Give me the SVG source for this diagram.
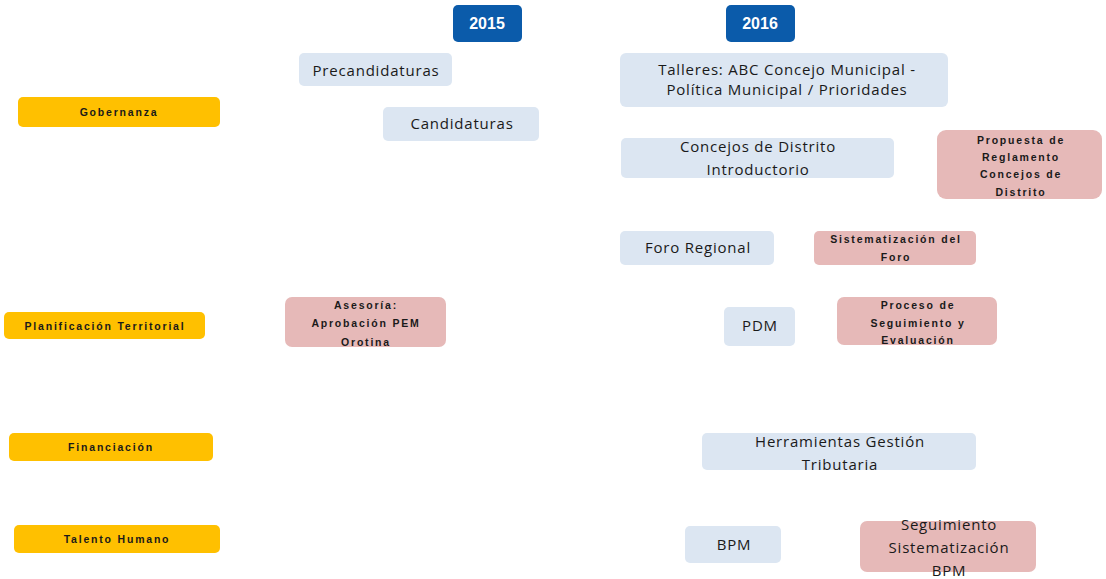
<svg xmlns="http://www.w3.org/2000/svg" width="1106" height="579" viewBox="0 0 1106 579">
<style>
.yr{fill:#0B5BAA}
.yt{font-family:"Liberation Sans",Arial,sans-serif;font-weight:bold;font-size:16px;fill:#fff;text-anchor:middle}
.cat{fill:#FFC000}
.bl{fill:#DCE6F2}
.pk{fill:#E6B9B8}
.sm{font-family:"Liberation Sans",Arial,sans-serif;font-weight:bold;font-size:10.5px;letter-spacing:1.8px;fill:#1a1a1a;text-anchor:middle}
.md{font-family:"Open Sans","Liberation Sans",sans-serif;font-size:15px;letter-spacing:0.8px;fill:#1a1a1a;text-anchor:middle}
.lg{font-family:"Open Sans","Liberation Sans",sans-serif;font-size:15px;letter-spacing:0.8px;fill:#1a1a1a;text-anchor:middle}
</style>
<rect width="1106" height="579" fill="#fff"/>
<g id="y2015"><rect class="yr" x="453" y="5" width="69" height="37" rx="5"/><text class="yt" x="487" y="29">2015</text></g>
<g id="y2016"><rect class="yr" x="726" y="5" width="69" height="37" rx="5"/><text class="yt" x="760" y="29">2016</text></g>

<g id="gobernanza"><rect class="cat" x="18" y="97" width="202" height="30" rx="5"/><text class="sm" x="119" y="116">Gobernanza</text></g>
<g id="planificacion"><rect class="cat" x="4" y="312" width="201" height="27" rx="5"/><text class="sm" x="105" y="330">Planificación Territorial</text></g>
<g id="financiacion"><rect class="cat" x="9" y="433" width="204" height="28" rx="5"/><text class="sm" x="111" y="451">Financiación</text></g>
<g id="talento"><rect class="cat" x="14" y="525" width="206" height="28" rx="5"/><text class="sm" x="117" y="543">Talento Humano</text></g>

<g id="precandidaturas"><rect class="bl" x="299" y="53" width="153" height="33" rx="5"/><text class="md" x="376" y="76">Precandidaturas</text></g>
<g id="candidaturas"><rect class="bl" x="383" y="107" width="156" height="34" rx="5"/><text class="md" x="462" y="129">Candidaturas</text></g>
<g id="talleres"><rect class="bl" x="620" y="53" width="328" height="54" rx="6"/><text class="md" x="787" y="75">Talleres: ABC Concejo Municipal -</text><text class="md" x="787" y="95">Política Municipal / Prioridades</text></g>
<g id="concejos"><rect class="bl" x="621" y="138" width="273" height="40" rx="5"/><text class="lg" x="758" y="152">Concejos de Distrito</text><text class="lg" x="758" y="175">Introductorio</text></g>
<g id="propuesta"><rect class="pk" x="937" y="130" width="165" height="69" rx="9"/><text class="sm" x="1021" y="144">Propuesta de</text><text class="sm" x="1021" y="161">Reglamento</text><text class="sm" x="1021" y="178">Concejos de</text><text class="sm" x="1021" y="196">Distrito</text></g>
<g id="foro"><rect class="bl" x="620" y="231" width="154" height="34" rx="5"/><text class="md" x="698" y="253">Foro Regional</text></g>
<g id="sistforo"><rect class="pk" x="814" y="231" width="162" height="34" rx="5"/><text class="sm" x="896" y="243">Sistematización del</text><text class="sm" x="896" y="261">Foro</text></g>
<g id="asesoria"><rect class="pk" x="285" y="297" width="161" height="50" rx="7"/><text class="sm" x="366" y="309">Asesoría:</text><text class="sm" x="366" y="327">Aprobación PEM</text><text class="sm" x="366" y="346">Orotina</text></g>
<g id="pdm"><rect class="bl" x="724" y="307" width="71" height="39" rx="5"/><text class="md" x="760" y="331">PDM</text></g>
<g id="proceso"><rect class="pk" x="837" y="297" width="160" height="48" rx="7"/><text class="sm" x="918" y="309">Proceso de</text><text class="sm" x="918" y="327">Seguimiento y</text><text class="sm" x="918" y="344">Evaluación</text></g>
<g id="herramientas"><rect class="bl" x="702" y="433" width="274" height="37" rx="5"/><text class="lg" x="840" y="447">Herramientas Gestión</text><text class="lg" x="840" y="470">Tributaria</text></g>
<g id="bpm"><rect class="bl" x="685" y="526" width="96" height="37" rx="5"/><text class="md" x="734" y="550">BPM</text></g>
<g id="segbpm"><rect class="pk" x="860" y="521" width="176" height="51" rx="7"/><text class="lg" x="949" y="530">Seguimiento</text><text class="lg" x="949" y="553">Sistematización</text><text class="lg" x="949" y="576">BPM</text></g>
<g id="connectors"></g>
</svg>
